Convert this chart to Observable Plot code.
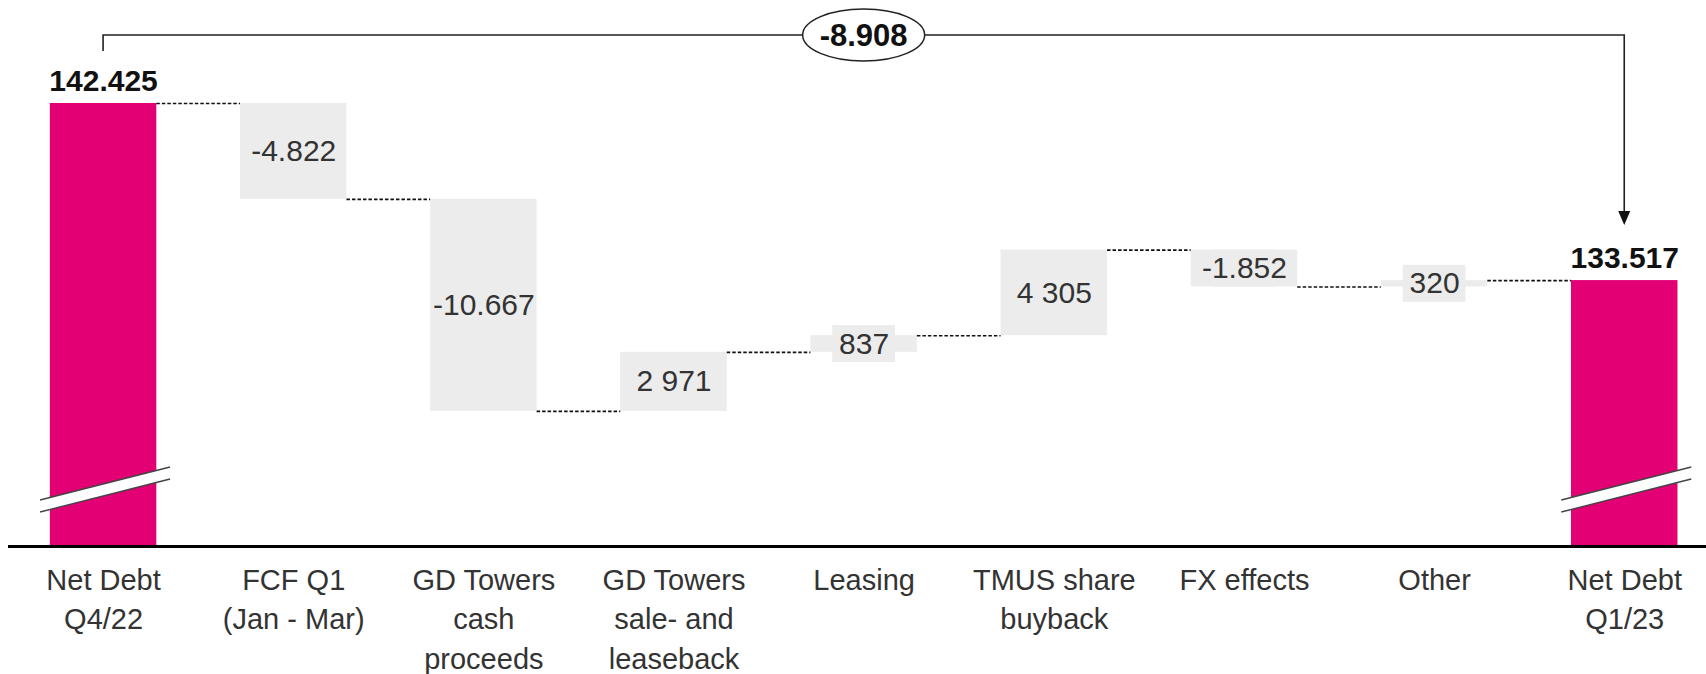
<!DOCTYPE html>
<html>
<head>
<meta charset="utf-8">
<script src="https://cdn.jsdelivr.net/npm/d3@7"></script>
<script src="https://cdn.jsdelivr.net/npm/@observablehq/plot@0.6"></script>
<style>
  html, body { margin: 0; padding: 0; background: #fff; }
  #chart svg { display: block; }
</style>
</head>
<body>
<div id="chart"></div>
<script>
// ---- data ----
const categories = [
  "Net Debt\nQ4/22",
  "FCF Q1\n(Jan - Mar)",
  "GD Towers\ncash\nproceeds",
  "GD Towers\nsale- and\nleaseback",
  "Leasing",
  "TMUS share\nbuyback",
  "FX effects",
  "Other",
  "Net Debt\nQ1/23"
];
const startValue = 142.425;
const endValue = 133.517;
const changes = [-4.822, -10.667, 2.971, 0.837, 4.305, -1.852, 0.320];
const changeLabels = ["-4.822", "-10.667", "2 971", "837", "4 305", "-1.852", "320"];
const totalLabels = ["142.425", "133.517"];
const deltaLabel = "-8.908";
const axisFloor = 120.14; // value at the (broken) baseline

// ---- derived tables ----
const FONT = "'Liberation Sans Narrow', 'Arial Narrow', 'Liberation Sans', sans-serif";
const HALF = 0.28; // half bar width in category steps
const totals = [
  {i: 0, value: startValue, label: totalLabels[0]},
  {i: categories.length - 1, value: endValue, label: totalLabels[1]}
];
let running = startValue;
const steps = changes.map((d, k) => {
  const from = running;
  running = running + d;
  return {i: k + 1, from, to: running, mid: (from + running) / 2, label: changeLabels[k]};
});
const connectors = [];
const levels = [startValue, ...steps.map(s => s.to)];
levels.forEach((lv, k) => connectors.push({x1: k + HALF, x2: k + 1 - HALF, y: lv}));

function findArgs(args) {
  return args.find(a => a && typeof a.x === "function" && typeof a.y === "function");
}

// bracket with arrow and delta ellipse
const bracketMark = (...args) => {
  const s = findArgs(args);
  const g = d3.create("svg:g");
  const x0 = s.x(0), x1 = s.x(categories.length - 1);
  const yS = s.y(startValue), yE = s.y(endValue);
  const yTop = yS - 68;
  g.append("path")
    .attr("d", `M${x0},${yS - 52}V${yTop}H${x1}V${yE - 68}`)
    .attr("fill", "none").attr("stroke", "#222").attr("stroke-width", 1.6);
  const tip = yE - 55;
  g.append("path")
    .attr("d", `M${x1 - 6},${tip - 14}L${x1 + 6},${tip - 14}L${x1},${tip}Z`)
    .attr("fill", "#111");
  const cx = (x0 + x1) / 2;
  g.append("ellipse").attr("cx", cx).attr("cy", yTop).attr("rx", 61).attr("ry", 26)
    .attr("fill", "#fff").attr("stroke", "#222").attr("stroke-width", 1.5);
  g.append("text").attr("x", cx).attr("y", yTop).attr("dy", "0.36em")
    .attr("text-anchor", "middle").attr("font-family", FONT)
    .attr("font-weight", "bold").attr("font-size", 31).attr("fill", "#111")
    .text(deltaLabel);
  return g.node();
};

// axis breaks on total bars
const breakMark = (...args) => {
  const s = findArgs(args);
  const g = d3.create("svg:g");
  const yb = s.y(axisFloor);
  totals.forEach(t => {
    const cx = s.x(t.i);
    const xl = cx - 63, xr = cx + 67;
    const yl = yb - 46, yr = yb - 79; // upper line ends
    const gap = 12;
    g.append("path")
      .attr("d", `M${xl},${yl}L${xr},${yr}L${xr},${yr + gap}L${xl},${yl + gap}Z`)
      .attr("fill", "#fff");
    g.append("path").attr("d", `M${xl},${yl}L${xr},${yr}`)
      .attr("stroke", "#444").attr("stroke-width", 1.4);
    g.append("path").attr("d", `M${xl},${yl + gap}L${xr},${yr + gap}`)
      .attr("stroke", "#444").attr("stroke-width", 1.4);
  });
  return g.node();
};

const chart = Plot.plot({
  width: 1706,
  height: 674,
  marginLeft: 8,
  marginRight: 0,
  marginTop: 103,
  marginBottom: 128,
  style: {fontFamily: FONT, background: "#fff", overflow: "visible"},
  x: {domain: [-0.5, 8.43], axis: null},
  y: {domain: [axisFloor, startValue], axis: null},
  marks: [
    Plot.rectY(steps, {x1: d => d.i - HALF, x2: d => d.i + HALF, y1: "from", y2: "to", fill: "#ececec"}),
    Plot.rect(steps, {x1: d => d.i - 0.165, x2: d => d.i + 0.165, y1: "mid", y2: "mid",
      insetTop: -18.5, insetBottom: -18.5, fill: "#ececec"}),
    Plot.rectY(totals, {x1: d => d.i - HALF, x2: d => d.i + HALF, y1: axisFloor, y2: "value", fill: "#e20074"}),
    breakMark,
    Plot.ruleY(connectors, {x1: "x1", x2: "x2", y: "y", stroke: "#111", strokeWidth: 1.6, strokeDasharray: "3.5,2"}),
    Plot.ruleY([axisFloor], {stroke: "#000", strokeWidth: 3}),
    Plot.text(steps, {x: "i", y: "mid", text: "label", fontSize: 30, fill: "#333", textAnchor: "middle"}),
    Plot.text(totals, {x: "i", y: "value", text: "label", fontSize: 30, fontWeight: "bold", fill: "#111",
      lineAnchor: "bottom", dy: -13}),
    Plot.axisX({ticks: d3.range(categories.length), tickFormat: i => categories[i], tickSize: 0,
      tickPadding: 15, fontSize: 29, lineHeight: 1.37, color: "#333", textAnchor: "middle"}),
    bracketMark
  ]
});
document.getElementById("chart").appendChild(chart);
</script>
</body>
</html>
